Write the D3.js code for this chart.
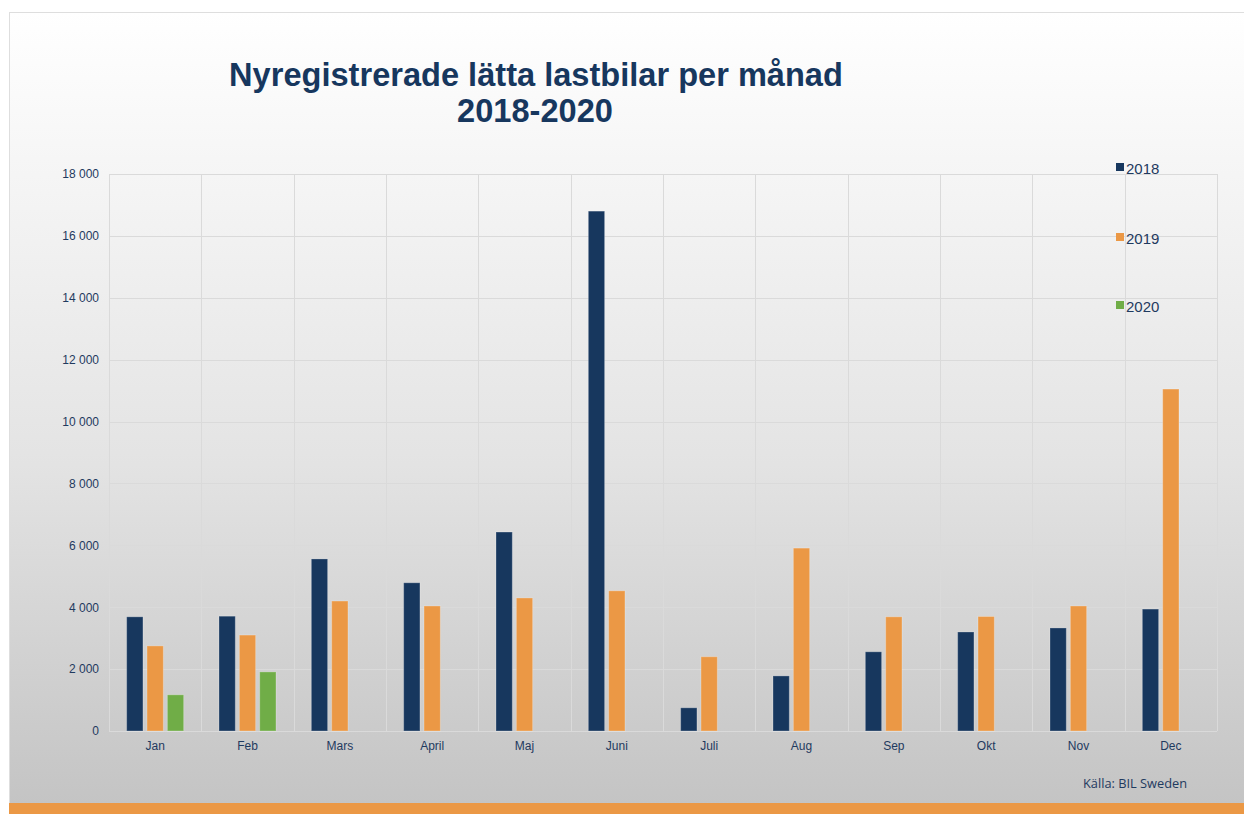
<!DOCTYPE html>
<html>
<head>
<meta charset="utf-8">
<script src="https://cdn.jsdelivr.net/npm/d3@7"></script>
<style>
  body { margin: 0; background: #fff; }
  svg { display: block; }
</style>
</head>
<body>
<div id="chart"></div>
<script>
// data
const months = ["Jan", "Feb", "Mars", "April", "Maj", "Juni", "Juli", "Aug", "Sep", "Okt", "Nov", "Dec"];
const years = ["2018", "2019", "2020"];
const values2018 = [3690, 3710, 5560, 4790, 6430, 16800, 750, 1780, 2560, 3200, 3330, 3940];
const values2019 = [2750, 3100, 4200, 4040, 4300, 4530, 2400, 5910, 3690, 3700, 4040, 11050];
const values2020 = [1170, 1910, null, null, null, null, null, null, null, null, null, null];
const yTicks = [0, 2000, 4000, 6000, 8000, 10000, 12000, 14000, 16000, 18000];
const colors = ["#17375e", "#eb9845", "#70ad47"];

const W = 1244, H = 814;
const margin = {top: 174, right: 27, bottom: 83, left: 109};
const width = W - margin.left - margin.right;
const height = H - margin.top - margin.bottom;

const svg = d3.select("#chart").append("svg")
    .attr("width", W)
    .attr("height", H);

// background gradient
const grad = svg.append("defs").append("linearGradient")
    .attr("id", "bg").attr("x1", 0).attr("y1", 0).attr("x2", 0).attr("y2", 1);
grad.append("stop").attr("offset", "0%").attr("stop-color", "#ffffff");
grad.append("stop").attr("offset", "55%").attr("stop-color", "#e4e4e4");
grad.append("stop").attr("offset", "100%").attr("stop-color", "#c3c3c3");

svg.append("rect")
    .attr("x", 9.5).attr("y", 12.5)
    .attr("width", W).attr("height", H - 12)
    .attr("fill", "url(#bg)")
    .attr("stroke", "#dedede");

// orange band at bottom
svg.append("rect")
    .attr("x", 9).attr("y", 803)
    .attr("width", W).attr("height", 11)
    .attr("fill", "#eb9845");

// title
const title = svg.append("text")
    .attr("text-anchor", "middle")
    .attr("fill", "#17375e")
    .style("font-family", "'Liberation Sans', Arial, sans-serif")
    .style("font-weight", "bold")
    .style("font-size", "32.6px");
title.append("tspan").attr("x", 536).attr("y", 86).text("Nyregistrerade lätta lastbilar per månad");
title.append("tspan").attr("x", 535).attr("y", 122).text("2018-2020");

const g = svg.append("g")
    .attr("transform", "translate(" + margin.left + "," + margin.top + ")");

const x = d3.scaleBand()
    .domain(months)
    .range([0, width]);

const xInner = d3.scaleBand()
    .domain(years)
    .range([x.bandwidth() / 2 - 28.5, x.bandwidth() / 2 + 28.5])
    .paddingInner(0.2);

const y = d3.scaleLinear()
    .domain([0, 18000])
    .range([height, 0]);

// grid
g.selectAll(".hgrid")
    .data(yTicks)
    .enter()
    .append("line")
    .attr("x1", 0).attr("x2", width)
    .attr("y1", d => Math.round(y(d)) + 0.5)
    .attr("y2", d => Math.round(y(d)) + 0.5)
    .attr("stroke", "#dadada");

g.selectAll(".vgrid")
    .data(months.concat(["end"]))
    .enter()
    .append("line")
    .attr("x1", (d, i) => Math.round(i * x.step()) + 0.5)
    .attr("x2", (d, i) => Math.round(i * x.step()) + 0.5)
    .attr("y1", 0).attr("y2", height)
    .attr("stroke", "#dadada");

// Y axis
const yAxis = g.append("g")
    .call(d3.axisLeft(y).tickValues(yTicks).tickSize(0).tickPadding(10)
        .tickFormat(d => d3.format(",")(d).replace(/,/g, " ")));
yAxis.select(".domain").remove();
yAxis.selectAll("text")
    .attr("fill", "#1f3a5f")
    .style("font-family", "'Liberation Sans', Arial, sans-serif")
    .style("font-size", "12px");

// X axis
const xAxis = g.append("g")
    .attr("transform", "translate(0," + height + ")")
    .call(d3.axisBottom(x).tickSize(0).tickPadding(10));
xAxis.select(".domain").remove();
xAxis.selectAll("text")
    .attr("fill", "#1f3a5f")
    .style("font-family", "'Liberation Sans', Arial, sans-serif")
    .style("font-size", "12px");

// Bars
const series = [values2018, values2019, values2020];
const rows = [];
months.forEach((m, i) => {
    years.forEach((yr, j) => {
        if (series[j][i] != null) rows.push({month: m, year: yr, value: series[j][i], idx: j});
    });
});

g.selectAll("mybar")
    .data(rows)
    .enter()
    .append("rect")
    .attr("x", d => x(d.month) + xInner(d.year))
    .attr("y", d => y(d.value))
    .attr("width", xInner.bandwidth())
    .attr("height", d => height - y(d.value))
    .attr("fill", d => colors[d.idx])
    .attr("stroke", "rgba(255,255,255,0.25)")
    .attr("stroke-width", 1);

// Legend
const legendY = [168, 238, 306];
const legend = svg.selectAll(".legend")
    .data(years)
    .enter()
    .append("g")
    .attr("transform", (d, i) => "translate(1116," + legendY[i] + ")");
legend.append("rect")
    .attr("x", 0).attr("y", -5)
    .attr("width", 8).attr("height", 8)
    .attr("fill", (d, i) => colors[i]);
legend.append("text")
    .attr("x", 10).attr("y", 6)
    .attr("fill", "#1f3a5f")
    .style("font-family", "'Liberation Sans', Arial, sans-serif")
    .style("font-size", "15px")
    .text(d => d);

// Source
svg.append("text")
    .attr("x", 1083).attr("y", 788)
    .attr("fill", "#1f3a5f")
    .style("font-family", "'Open Sans', sans-serif")
    .style("font-size", "12.8px")
    .text("Källa:  BIL Sweden");
</script>
</body>
</html>
